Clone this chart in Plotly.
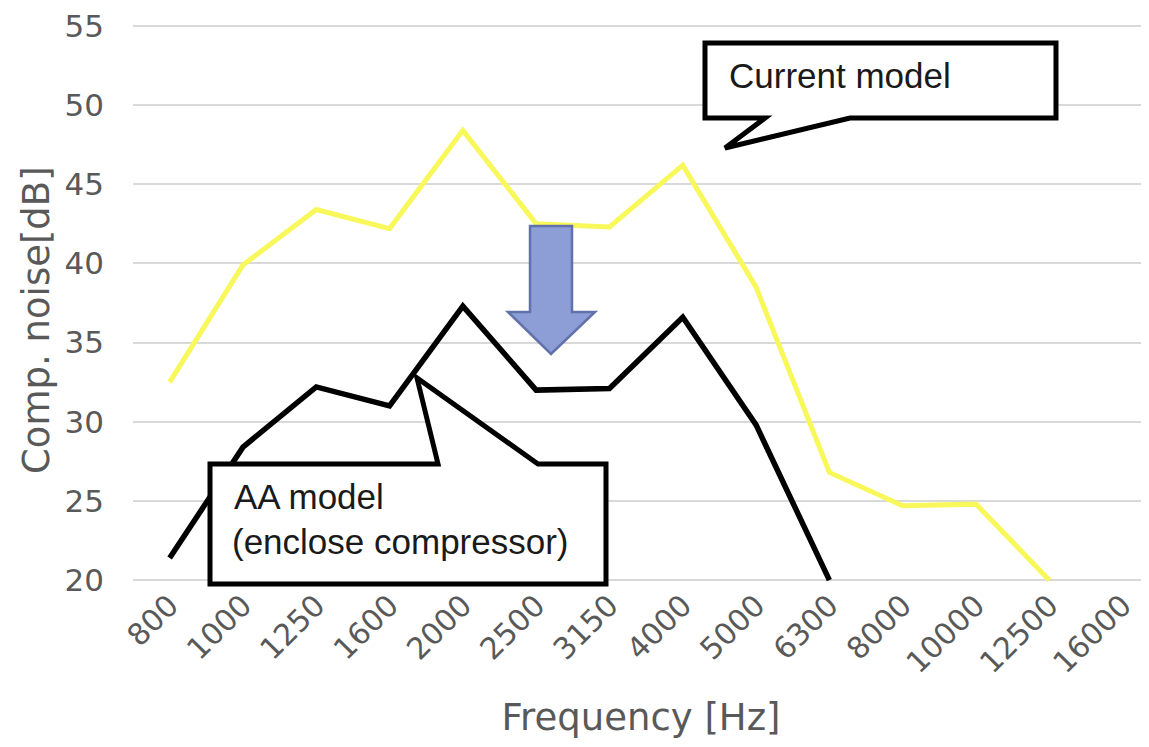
import plotly.graph_objects as go

# ---- data ----
freq_labels = ["800", "1000", "1250", "1600", "2000", "2500", "3150",
               "4000", "5000", "6300", "8000", "10000", "12500", "16000"]
current_model = [32.5, 39.9, 43.4, 42.2, 48.4, 42.5, 42.3,
                 46.2, 38.5, 26.8, 24.7, 24.8, 20.0, None]
aa_model = [21.4, 28.4, 32.2, 31.0, 37.3, 32.0, 32.1,
            36.6, 29.8, 20.0, None, None, None, None]

y_ticks = [20, 25, 30, 35, 40, 45, 50, 55]

# ---- layout geometry ----
# The page body has an 8px margin, so figure coords = screen coords - 8.
OFF = 8
FIG_W, FIG_H = 1141, 731
M_L, M_T, M_B, M_R = 125, 2, 143, 0
PLOT_W = FIG_W - M_L - M_R
PLOT_H = FIG_H - M_T - M_B


def px(x):
    return (x - OFF - M_L) / PLOT_W


def py(y):
    return (M_T + PLOT_H - (y - OFF)) / PLOT_H


def path(points):
    s = "M " + " L ".join(f"{px(x):.5f},{py(y):.5f}" for x, y in points)
    return s + " Z"


AXIS_FONT = "DejaVu Sans, Verdana, sans-serif"
AXIS_COLOR = "#595959"
NOTE_FONT = "Liberation Sans, Arial, sans-serif"
NOTE_SIZE = 35

fig = go.Figure()
fig.add_trace(go.Scatter(x=freq_labels, y=current_model, mode="lines",
                         name="Current model",
                         line=dict(color="#F8F85A", width=5),
                         connectgaps=False))
fig.add_trace(go.Scatter(x=freq_labels, y=aa_model, mode="lines",
                         name="AA model",
                         line=dict(color="#000000", width=5.5),
                         connectgaps=False))

shapes = [
    # "Current model" callout
    dict(type="path", xref="paper", yref="paper", layer="above",
         path=path([(705, 43), (1056, 43), (1056, 118), (850, 118),
                    (725, 148), (765, 118), (705, 118)]),
         line=dict(color="black", width=5), fillcolor="white"),
    # "AA model" callout
    dict(type="path", xref="paper", yref="paper", layer="above",
         path=path([(210, 464), (438, 464), (417, 378), (538, 464),
                    (606, 464), (606, 584), (210, 584)]),
         line=dict(color="black", width=5), fillcolor="white"),
    # blue down arrow
    dict(type="path", xref="paper", yref="paper", layer="above",
         path=path([(530, 226), (572, 226), (572, 312), (595, 312),
                    (551, 354), (508, 312), (530, 312)]),
         line=dict(color="#6172AA", width=2.5), fillcolor="#8D9DD6"),
]

annotations = [
    dict(text="Current model", x=px(727), y=py(75.5), xref="paper", yref="paper",
         xanchor="left", yanchor="middle", showarrow=False,
         font=dict(family=NOTE_FONT, size=NOTE_SIZE, color="#1a1a1a")),
    dict(text="AA model", x=px(232), y=py(496.5), xref="paper", yref="paper",
         xanchor="left", yanchor="middle", showarrow=False,
         font=dict(family=NOTE_FONT, size=NOTE_SIZE, color="#1a1a1a")),
    dict(text="(enclose compressor)", x=px(230), y=py(541.5), xref="paper",
         yref="paper", xanchor="left", yanchor="middle", showarrow=False,
         font=dict(family=NOTE_FONT, size=NOTE_SIZE, color="#1a1a1a")),
    # y-axis title
    dict(text="Comp. noise[dB]", x=px(36), y=py(320), xref="paper", yref="paper",
         xanchor="center", yanchor="middle", showarrow=False, textangle=-90,
         font=dict(family=AXIS_FONT, size=37, color=AXIS_COLOR)),
]

fig.update_layout(
    width=FIG_W, height=FIG_H,
    margin=dict(l=M_L, r=M_R, t=M_T, b=M_B, autoexpand=False),
    paper_bgcolor="white", plot_bgcolor="white",
    showlegend=False,
    shapes=shapes, annotations=annotations,
    xaxis=dict(type="category", range=[-0.5, 13.36],
               showgrid=False, showline=False, zeroline=False, ticks="",
               tickangle=-45, ticklabelstandoff=-15,
               tickfont=dict(family=AXIS_FONT, size=30, color=AXIS_COLOR),
               title=dict(text="Frequency [Hz]", standoff=27,
                          font=dict(family=AXIS_FONT, size=37, color=AXIS_COLOR)),
               automargin=False),
    yaxis=dict(range=[19, 56], tickvals=y_ticks,
               showgrid=True, gridcolor="#D9D9D9", gridwidth=1.5,
               showline=False, zeroline=False, ticks="",
               ticklabelstandoff=28, ticklabeloverflow="allow",
               tickfont=dict(family=AXIS_FONT, size=31, color=AXIS_COLOR),
               automargin=False),
)

fig.write_html("out.html")
